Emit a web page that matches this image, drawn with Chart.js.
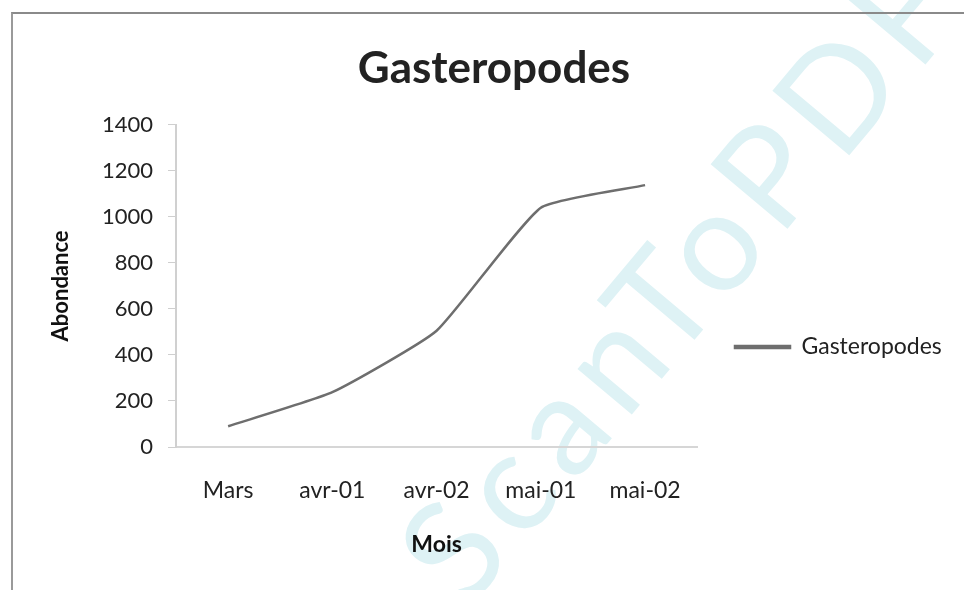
<!DOCTYPE html>
<html>
<head>
<meta charset="utf-8">
<script src="https://cdn.jsdelivr.net/npm/chart.js@4/dist/chart.umd.min.js"></script>
<style>
  html, body { margin:0; padding:0; background:#fff; }
  #wrap { position:relative; width:964px; height:590px; overflow:hidden; }
  #frame { position:absolute; left:11px; top:12px; width:960px; height:600px; border-top:2px solid #8a8a8a; border-left:2px solid #9a9a9a; pointer-events:none; }
</style>
</head>
<body>
<div id="wrap">
  <canvas id="c" width="964" height="590"></canvas>
  <div id="frame"></div>
</div>
<script>
const categories = ['Mars', 'avr-01', 'avr-02', 'mai-01', 'mai-02'];
const gasteropodes = [90, 238, 505, 1040, 1138];
const yTicks = [0, 200, 400, 600, 800, 1000, 1200, 1400];
const chartTitle = 'Gasteropodes';
const seriesName = 'Gasteropodes';
const xTitle = 'Mois';
const yTitle = 'Abondance';
const watermark = 'ScanToPDF';

const FONT = 'Lato, "Open Sans", sans-serif';

const watermarkPlugin = {
  id: 'watermark',
  beforeDraw(chart) {
    const ctx = chart.ctx;
    ctx.save();
    ctx.translate(466, 612);
    ctx.rotate(-50 * Math.PI / 180);
    ctx.font = '400 140px ' + FONT;
    try { ctx.letterSpacing = '12px'; } catch (e) {}
    ctx.fillStyle = 'rgb(222, 242, 245)';
    ctx.textBaseline = 'alphabetic';
    ctx.fillText(watermark, 0, 0);
    ctx.restore();
  }
};

const placePlugin = {
  id: 'place',
  afterLayout(chart) {
    const L = chart.legend;
    if (L) {
      const dx = 725 - L.left;
      L.left += dx; L.right += dx;
      const dy = 347 - (L.top + L.bottom) / 2;
      L.top += dy; L.bottom += dy;
    }
    const T = chart.titleBlock;
    if (T) { T.left += 32; T.right += 32; }
  }
};

new Chart(document.getElementById('c'), {
  type: 'line',
  data: {
    labels: categories,
    datasets: [{
      label: seriesName,
      data: gasteropodes,
      borderColor: '#6e6e6e',
      backgroundColor: '#747474',
      borderWidth: 2.5,
      pointRadius: 0,
      tension: 0.15,
      fill: false
    }]
  },
  options: {
    responsive: false,
    animation: false,
    layout: { padding: { left: 0, right: 40, top: 0, bottom: 0 } },
    plugins: {
      title: {
        display: true,
        text: chartTitle,
        color: '#222',
        font: { family: FONT, size: 44, weight: 'bold' },
        padding: { top: 42, bottom: 30 }
      },
      legend: {
        display: true,
        position: 'right',
        labels: {
          color: '#222',
          font: { family: FONT, size: 23 },
          boxWidth: 55,
          boxHeight: 2,
          padding: 10
        }
      },
      tooltip: { enabled: false }
    },
    scales: {
      x: {
        offset: true,
        grid: { display: true, drawOnChartArea: false, drawTicks: false, color: '#d6d6d6' },
        border: { display: true, color: '#d6d6d6', width: 2, dash: [8, 6] },
        ticks: { color: '#222', font: { family: FONT, size: 23 }, padding: 30, maxRotation: 0 },
        title: { display: true, text: xTitle, color: '#111', font: { family: FONT, size: 23, weight: 'bold' }, padding: { top: 0, bottom: 32 } },
        afterFit(scale) { scale.height = 143; }
      },
      y: {
        min: 0, max: 1400,
        afterBuildTicks(scale) { scale.ticks = yTicks.map(v => ({ value: v })); },
        grid: { display: true, drawOnChartArea: false, drawTicks: true, tickLength: 8, color: '#cfcfcf' },
        border: { display: true, color: '#d0d0d0', width: 2 },
        ticks: { color: '#222', font: { family: FONT, size: 22 }, padding: 15, callback: (v) => String(v) },
        title: { display: true, text: yTitle, color: '#111', font: { family: FONT, size: 22, weight: 'bold' }, padding: { top: 48, bottom: 48 } },
        afterFit(scale) { scale.width = 176; }
      }
    }
  },
  plugins: [placePlugin, watermarkPlugin]
});
</script>
</body>
</html>
